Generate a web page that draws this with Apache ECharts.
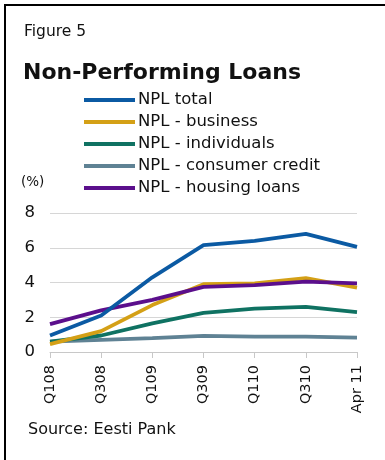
<!DOCTYPE html>
<html>
<head>
<meta charset="utf-8">
<script src="https://cdn.jsdelivr.net/npm/echarts@6/dist/echarts.min.js"></script>
<style>
  html, body { margin: 0; padding: 0; background: #fff; }
  #chart { width: 385px; height: 460px; }
</style>
</head>
<body>
<div id="chart"></div>
<script>
// Quarterly observation points on the x axis
const categories = ['Q108', 'Q308', 'Q109', 'Q309', 'Q110', 'Q310', 'Apr 11'];

// Non-performing loan ratios, %
const nplTotal       = [0.95, 2.1, 4.3, 6.15, 6.4, 6.8, 6.05];
const nplBusiness    = [0.45, 1.2, 2.7, 3.9, 3.95, 4.25, 3.7];
const nplIndividuals = [0.6, 0.95, 1.65, 2.25, 2.5, 2.6, 2.3];
const nplConsumer    = [0.6, 0.7, 0.8, 0.93, 0.88, 0.88, 0.83];
const nplHousing     = [1.6, 2.4, 3.0, 3.75, 3.85, 4.05, 3.95];

const seriesNames = ['NPL total', 'NPL - business', 'NPL - individuals', 'NPL - consumer credit', 'NPL - housing loans'];
const seriesData  = [nplTotal, nplBusiness, nplIndividuals, nplConsumer, nplHousing];
const colors = ['#0b5aa3', '#d4a016', '#0f7262', '#5f8294', '#5b0f8c'];

// Drawing order: consumer credit at the back, then individuals, business, housing, total on top
const drawOrder = [3, 2, 1, 4, 0];

const font = 'DejaVu Sans';
const chart = echarts.init(document.getElementById('chart'), null, { renderer: 'canvas' });

chart.setOption({
  animation: false,
  backgroundColor: '#ffffff',
  textStyle: { fontFamily: font },
  grid: { left: 50, right: 28, top: 213, bottom: 108, containLabel: false },
  legend: {
    orient: 'vertical',
    left: 79,
    top: 85,
    data: seriesNames,
    icon: 'rect',
    itemWidth: 51,
    itemHeight: 4,
    itemGap: 2,
    textStyle: { fontFamily: font, fontSize: 16.5, color: '#111', lineHeight: 20, padding: [0, 0, 0, -2] }
  },
  xAxis: {
    type: 'category',
    data: categories,
    boundaryGap: false,
    axisLine: { lineStyle: { color: '#c8c8c8', width: 1 } },
    axisTick: { show: true, alignWithLabel: true, length: 6, lineStyle: { color: '#c8c8c8' } },
    axisLabel: { rotate: 90, fontFamily: font, fontSize: 14.5, color: '#111', margin: 13 }
  },
  yAxis: {
    type: 'value',
    min: 0,
    max: 8,
    interval: 2,
    axisLine: { show: false },
    axisTick: { show: false },
    splitLine: { lineStyle: { color: '#d6d6d6', width: 1 } },
    axisLabel: { fontFamily: font, fontSize: 16.5, color: '#111', margin: 15 }
  },
  series: drawOrder.map(i => ({
    name: seriesNames[i],
    type: 'line',
    data: seriesData[i],
    symbol: 'none',
    lineStyle: { color: colors[i], width: 3.8 },
    itemStyle: { color: colors[i] },
    z: 2 + drawOrder.indexOf(i)
  })),
  graphic: [
    // frame: top and left rules
    { type: 'rect', shape: { x: 4, y: 4, width: 381, height: 2 }, style: { fill: '#000' } },
    { type: 'rect', shape: { x: 4, y: 4, width: 2, height: 456 }, style: { fill: '#000' } },
    { type: 'text', left: 24, top: 24, style: { text: 'Figure 5', font: '15.5px "' + font + '"', fill: '#111' } },
    { type: 'text', left: 23, top: 62, style: { text: 'Non-Performing Loans', font: 'bold 22px "' + font + '"', fill: '#111' } },
    { type: 'text', left: 21, top: 175, style: { text: '(%)', font: '13.5px "' + font + '"', fill: '#111' } },
    { type: 'text', left: 28, top: 422, style: { text: 'Source: Eesti Pank', font: '16px "' + font + '"', fill: '#111' } }
  ]
});
</script>
</body>
</html>
